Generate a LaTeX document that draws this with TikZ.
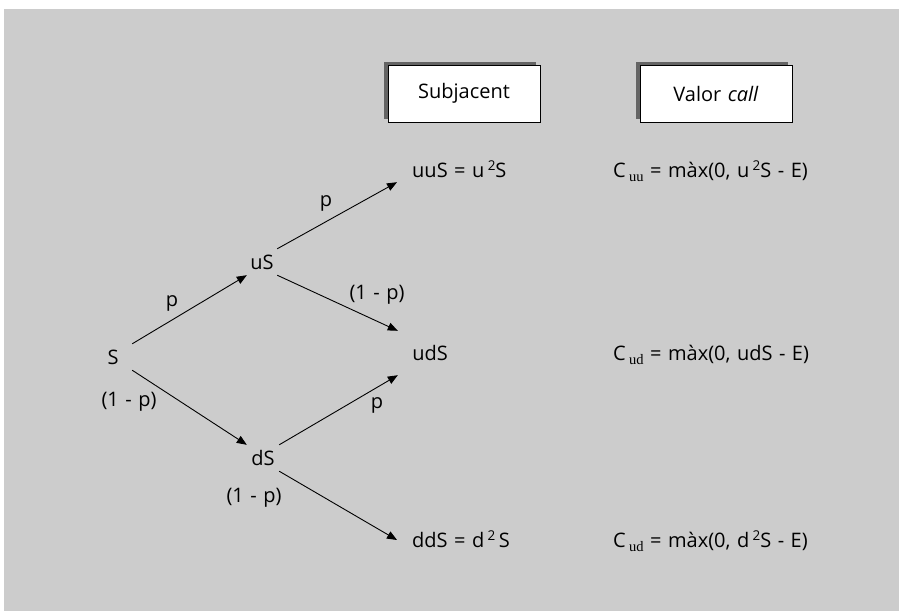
\documentclass[tikz,border=0pt]{standalone}
\usepackage{fontspec}
\setmainfont{Open Sans}[WordSpace=1.25]
\newfontfamily\idxfont{Liberation Serif}
\usetikzlibrary{arrows.meta,shadows}
\definecolor{panelgray}{HTML}{CCCCCC}
\definecolor{shadowgray}{HTML}{646464}
\newcommand{\lowidx}[1]{\raisebox{-4.5pt}{\idxfont\fontsize{14.5}{14.5}\selectfont #1}}
\newcommand{\upidx}[1]{\raisebox{7pt}{\fontsize{13.5}{13.5}\selectfont #1}}

\tikzset{
  headbox/.style={draw=black, line width=1pt, fill=white,
    minimum width=152pt, minimum height=57pt,
    drop shadow={shadow xshift=-4.5pt, shadow yshift=3.5pt, fill=shadowgray, opacity=1}},
  state/.style={inner sep=0pt, text height=14pt, text depth=0pt, minimum height=26pt},
  value/.style={anchor=base west, inner sep=0pt},
  prob/.style={inner sep=0pt},
  tree/.style={-{Triangle[length=10pt,width=8pt]}, line width=0.9pt}
}

\begin{document}
\begin{tikzpicture}[x=1pt, y=-1pt, font=\fontsize{20}{24}\selectfont]
\useasboundingbox (0,0) rectangle (899,611);
\fill[panelgray] (4,9) rectangle (899,611);

% column headers
\node[headbox] (under) at (464,93.5) {Subjacent};
\node[headbox] (call) at (716,93.5) {Valor \textit{call}};

% binomial tree
\node[state, minimum width=38pt] (S) at (113,357) {S};
\node[state, minimum width=30pt] (uS) at (262,262) {uS};
\node[state, minimum width=32pt] (dS) at (263,458) {dS};
\node[state, minimum width=64pt, minimum height=44pt] (udS) at (430,353) {udS};
\node[state, anchor=west, inner xsep=15pt, minimum height=24pt] (uuS) at (397,170) {uuS = u\,\upidx{2}S};
\node[state, anchor=west, inner xsep=15pt] (ddS) at (397,540) {ddS = d\,\upidx{2}\,S};

\draw[tree] (S.north east) -- (uS.south west);
\draw[tree] (S.south east) -- (dS.north west);
\draw[tree] (uS.north east) -- (uuS.south west);
\draw[tree] (uS.south east) -- (udS.north west);
\draw[tree] (dS.north east) -- (udS.south west);
\draw[tree] (dS.south east) -- (ddS.west);

% probabilities
\node[prob] (p1) at (172,303) {p};
\node[prob] (q1) at (129,402) {(1 - p)};
\node[prob] (p2) at (326,203) {p};
\node[prob] (q2) at (377,295) {(1 - p)};
\node[prob] (p3) at (377,405) {p};
\node[prob] (q3) at (254,498) {(1 - p)};

% option values
\node[value] (Cuu) at (613,177) {C\,\lowidx{uu} = màx(0, u\,\upidx{2}S - E)};
\node[value] (Cud) at (613,360) {C\,\lowidx{ud} = màx(0, udS - E)};
\node[value] (Cdd) at (613,547) {C\,\lowidx{ud} = màx(0, d\,\upidx{2}S - E)};
\end{tikzpicture}
\end{document}
